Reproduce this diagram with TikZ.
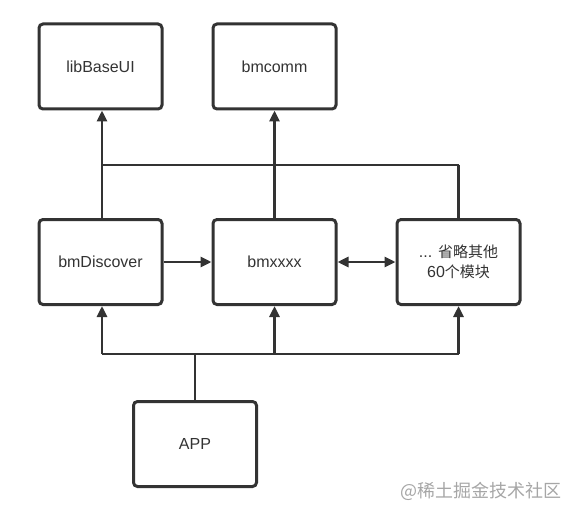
\documentclass[tikz,border=0pt]{standalone}
\usepackage{fontspec}
\setmainfont{Liberation Sans}
\newfontfamily\cjk{Noto Sans CJK SC}
\usetikzlibrary{arrows.meta}
\definecolor{ink}{HTML}{333333}
\tikzset{
  box/.style={draw=ink, line width=3pt, rounded corners=4pt, minimum width=123pt, minimum height=85pt, inner sep=0pt, align=center, text=ink, font=\fontsize{16}{20}\selectfont},
  link/.style={draw=ink, line width=2.7pt},
  thin link/.style={draw=ink, line width=2.1pt},
  tip/.style={-{Triangle[length=11pt,width=10pt]}},
  both tip/.style={{Triangle[length=11pt,width=10pt]}-{Triangle[length=11pt,width=10pt]}},
}
\begin{document}
\begin{tikzpicture}[x=1pt,y=-1pt]
\useasboundingbox (0,0) rectangle (577,513);
\node[box] (lib) at (100.5,66.5) {libBaseUI};
\node[box] (comm) at (274.5,66.5) {bmcomm};
\node[box] (disc) at (100.5,262) {bmDiscover};
\node[box] (xxxx) at (274.5,262) {bmxxxx};
\node[box] (other) at (458.5,262) {... {\cjk\fontsize{15}{20}\selectfont 省略其他}\\60{\cjk\fontsize{15}{20}\selectfont 个模块}};
\node[box] (app) at (195,444) {APP};
\coordinate (topL) at (102,165);
\coordinate (topR) at (458.5,165);
\coordinate (botL) at (102,354);
\coordinate (botM) at (195,354);
\coordinate (botX) at (274.5,354);
\coordinate (botR) at (458.5,354);
% upper connectors
\draw[link,tip] (disc.north -| topL) -- (lib.south -| topL);
\draw[link,tip] (xxxx.north) -- (comm.south);
\draw[link] (other.north) -- (topR);
\draw[thin link] (topL) -- (topR);
% middle connectors
\draw[link,tip] (disc.east) -- (xxxx.west);
\draw[link,both tip] (xxxx.east) -- (other.west);
% lower connectors
\draw[link] (app.north) -- (botM);
\draw[link] (botL) -- (botR);
\draw[link,tip] (botL) -- (disc.south -| botL);
\draw[link,tip] (botX) -- (xxxx.south);
\draw[link,tip] (botR) -- (other.south);
\node[text=black!35, font=\cjk\fontsize{18}{22}\selectfont, anchor=west, inner sep=0pt] (wm) at (400,491) {@稀土掘金技术社区};
\end{tikzpicture}
\end{document}
